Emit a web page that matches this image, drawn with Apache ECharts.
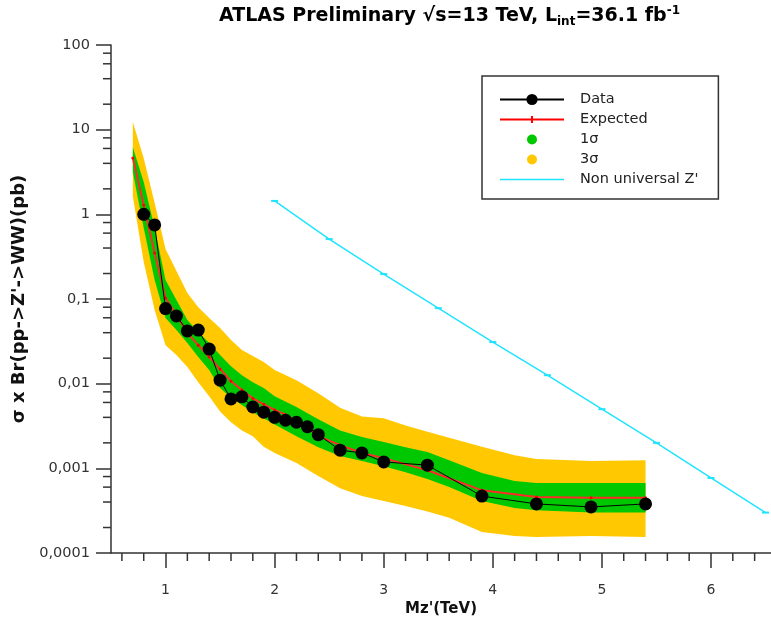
<!DOCTYPE html>
<html><head><meta charset="utf-8">
<script src="https://cdn.jsdelivr.net/npm/echarts@6/dist/echarts.min.js"></script>
<style>html,body{margin:0;padding:0;background:#fff}#c{width:771px;height:626px}</style>
</head><body><div id="c"></div>
<script>
// ---- data ----
const dataMass = [0.8,0.9,1.0,1.1,1.2,1.3,1.4,1.5,1.6,1.7,1.8,1.9,2.0,2.1,2.2,2.3,2.4,2.6,2.8,3.0,3.4,3.9,4.4,4.9,5.4];
const dataXsec = [1.0,0.75,0.077,0.063,0.042,0.043,0.0256,0.0110,0.0066,0.0070,0.0053,0.0046,0.0040,0.0037,0.0035,0.0031,0.0025,0.00164,0.00152,0.00119,0.00109,0.00047,0.00038,0.00035,0.00038];
const expMass = [0.7,0.8,0.9,1.0,1.1,1.2,1.3,1.4,1.5,1.6,1.7,1.8,1.9,2.0,2.1,2.2,2.3,2.4,2.6,2.8,3.0,3.4,3.9,4.4,4.9,5.4];
const expXsec = [4.62,1.29,0.349,0.103,0.0647,0.0396,0.0285,0.0206,0.0149,0.0107,0.0084,0.0067,0.0057,0.0049,0.0043,0.0036,0.0030,0.0024,0.00188,0.00152,0.00132,0.00095,0.00055,0.00046,0.00045,0.00045];
const bandMass = [0.7,0.8,0.9,1.0,1.1,1.2,1.3,1.4,1.5,1.6,1.7,1.8,1.9,2.0,2.2,2.4,2.6,2.8,3.0,3.2,3.4,3.6,3.9,4.2,4.4,4.9,5.4];
const band3Up  = [12.3,4.6,1.36,0.39,0.214,0.118,0.080,0.0595,0.0454,0.0327,0.0249,0.0212,0.0180,0.0145,0.0110,0.0077,0.0052,0.0041,0.0039,0.0032,0.0027,0.0023,0.0018,0.00143,0.00129,0.00122,0.00125];
const band3Low = [1.64,0.273,0.074,0.0285,0.0218,0.0157,0.0104,0.0071,0.0047,0.0035,0.0028,0.0024,0.0018,0.00152,0.00116,0.00081,0.00058,0.00047,0.00041,0.00036,0.00031,0.00026,0.000177,0.000159,0.000155,0.000159,0.000155];
const band1Up  = [6.2,2.41,0.69,0.168,0.097,0.0565,0.0407,0.0302,0.0218,0.0161,0.0126,0.0104,0.0089,0.0071,0.0053,0.0038,0.0028,0.00234,0.00204,0.00178,0.00156,0.00125,0.00088,0.00071,0.00067,0.00067,0.00067];
const band1Low = [3.16,0.69,0.168,0.0596,0.043,0.0302,0.0206,0.0145,0.0089,0.0068,0.0056,0.0046,0.0039,0.0033,0.0024,0.00178,0.0014,0.00122,0.00106,0.0009,0.00075,0.0006,0.00041,0.00034,0.00032,0.0003,0.0003];
const zMass = [2.0,2.5,3.0,3.5,4.0,4.5,5.0,5.5,6.0,6.5];
const zXsec = [1.44,0.51,0.197,0.078,0.031,0.0126,0.0050,0.0020,0.00077,0.0003];
const yTickExponents = [-4,-3,-2,-1,0,1,2];
const yTickLabels = ['0,0001','0,001','0,01','0,1','1','10','100'];
const xMin = 0.5, xMax = 6.55, yMin = 0.0001, yMax = 100;

// minor tick positions (axis decoration)
const xMinor = [];
for (let k = 3; k <= 32; k++) { if (k % 5) xMinor.push(+(k * 0.2).toFixed(1)); }
const yMinor = [];
for (let e = -4; e <= 1; e++) { [2,4,6,8].forEach(f => yMinor.push(+(f * Math.pow(10, e)).toPrecision(3))); }

const FONT = 'DejaVu Sans';
const AX = '#333';

function bandSeries(name, up, low, color, z) {
  return {
    name, type: 'custom', coordinateSystem: 'cartesian2d', z, silent: true,
    itemStyle: { color },
    data: bandMass.map((m, i) => [m, up[i], low[i]]),
    encode: { x: 0, y: [1, 2] },
    renderItem: (params, api) => {
      if (params.dataIndex !== 0) return null;
      const pts = [];
      for (let i = 0; i < bandMass.length; i++) pts.push(api.coord([bandMass[i], up[i]]));
      for (let i = bandMass.length - 1; i >= 0; i--) pts.push(api.coord([bandMass[i], low[i]]));
      return { type: 'polygon', shape: { points: pts }, style: { fill: color } };
    }
  };
}

const dotIcon = 'path://M0,0M14,14M2,7A5,5,0,1,0,12,7A5,5,0,1,0,2,7Z';
const expIcon = 'path://M0,2.5L64,2.5L64,4.5L0,4.5ZM31,0L33,0L33,7L31,7Z';
const lineIcon = 'path://M0,0L64,0L64,1.5L0,1.5Z';

const chart = echarts.init(document.getElementById('c'), null, { renderer: 'canvas' });
chart.setOption({
  animation: false,
  backgroundColor: '#fff',
  title: {
    text: '{b|ATLAS Preliminary √s=13 TeV, L}{sub|int}{b|=36.1 fb}{sup|-1}',
    left: 219, top: 5, padding: 0,
    textStyle: {
      rich: {
        b: { fontFamily: FONT, fontWeight: 'bold', fontSize: 19, color: '#000', lineHeight: 23 },
        sub: { fontFamily: FONT, fontWeight: 'bold', fontSize: 12, color: '#000', lineHeight: 15, verticalAlign: 'bottom' },
        sup: { fontFamily: FONT, fontWeight: 'bold', fontSize: 12, color: '#000', lineHeight: 15, verticalAlign: 'top' }
      }
    }
  },
  legend: {
    orient: 'vertical', left: 482, top: 76, padding: [16, 20, 12, 17],
    itemWidth: 64, itemHeight: 14, itemGap: 5,
    borderColor: '#333', borderWidth: 1.5, backgroundColor: '#fff',
    selectedMode: false,
    textStyle: { fontFamily: FONT, fontSize: 14.5, lineHeight: 14, color: '#222', padding: [0, 0, 0, 11] },
    data: [
      { name: 'Data' },
      { name: 'Expected', icon: expIcon },
      { name: '1σ', icon: dotIcon },
      { name: '3σ', icon: dotIcon },
      { name: "Non universal Z'", icon: lineIcon }
    ]
  },
  grid: { left: 111, right: 0, top: 45, bottom: 73, outerBoundsMode: 'none' },
  xAxis: {
    type: 'value', min: xMin, max: xMax, splitNumber: 6,
    name: "Mz'(TeV)", nameLocation: 'middle', nameGap: 47,
    nameTextStyle: { fontFamily: FONT, fontWeight: 'bold', fontSize: 15, color: '#111' },
    axisLine: { lineStyle: { color: AX, width: 1.5 } },
    axisTick: { length: 15, lineStyle: { color: AX, width: 1.5 } },
    axisLabel: { showMinLabel: false, showMaxLabel: false, margin: 30, color: '#333', fontSize: 14, fontFamily: FONT },
    splitLine: { show: false }
  },
  yAxis: {
    type: 'log', logBase: 10, min: yMin, max: yMax,
    name: "σ x Br(pp->Z'->WW)(pb)", nameLocation: 'middle', nameGap: 79,
    nameTextStyle: { fontFamily: FONT, fontWeight: 'bold', fontSize: 18, color: '#111' },
    axisLine: { lineStyle: { color: AX, width: 1.5 } },
    axisTick: { length: 15, lineStyle: { color: AX, width: 1.5 } },
    axisLabel: {
      margin: 21, color: '#333', fontSize: 14.5, fontFamily: FONT,
      formatter: v => { const i = yTickExponents.indexOf(Math.round(Math.log10(v))); return i >= 0 ? yTickLabels[i] : ''; }
    },
    splitLine: { show: false }
  },
  series: [
    bandSeries('3σ', band3Up, band3Low, '#ffc800', 1),
    bandSeries('1σ', band1Up, band1Low, '#00c800', 2),
    {
      name: "Non universal Z'", type: 'line', z: 3,
      data: zMass.map((m, i) => [m, zXsec[i]]),
      symbol: 'rect', symbolSize: [7, 2], showAllSymbol: true,
      itemStyle: { color: '#20e4ff' }, lineStyle: { color: '#20e4ff', width: 1.5 }
    },
    {
      name: 'Expected', type: 'line', z: 4,
      data: expMass.map((m, i) => [m, expXsec[i]]),
      symbol: 'circle', symbolSize: 3, showAllSymbol: true,
      itemStyle: { color: '#ff0000' }, lineStyle: { color: '#ff2a2a', width: 2 }
    },
    {
      name: 'Data', type: 'line', z: 5,
      data: dataMass.map((m, i) => [m, dataXsec[i]]),
      symbol: 'circle', symbolSize: 13, showAllSymbol: true,
      itemStyle: { color: '#000' }, lineStyle: { color: '#000', width: 1 }
    },
    {
      name: 'xMinorTicks', type: 'custom', coordinateSystem: 'cartesian2d', silent: true, z: 6, clip: false,
      data: xMinor.map(v => [v, yMin]),
      renderItem: (params, api) => {
        const p = api.coord([api.value(0), yMin]);
        return { type: 'line', shape: { x1: p[0], y1: p[1], x2: p[0], y2: p[1] + 8 }, style: { stroke: AX, lineWidth: 1.5 } };
      }
    },
    {
      name: 'yMinorTicks', type: 'custom', coordinateSystem: 'cartesian2d', silent: true, z: 6, clip: false,
      data: yMinor.map(v => [xMin, v]),
      renderItem: (params, api) => {
        const p = api.coord([xMin, api.value(1)]);
        return { type: 'line', shape: { x1: p[0] - 8, y1: p[1], x2: p[0], y2: p[1] }, style: { stroke: AX, lineWidth: 1.5 } };
      }
    }
  ]
});
</script>
</body></html>
